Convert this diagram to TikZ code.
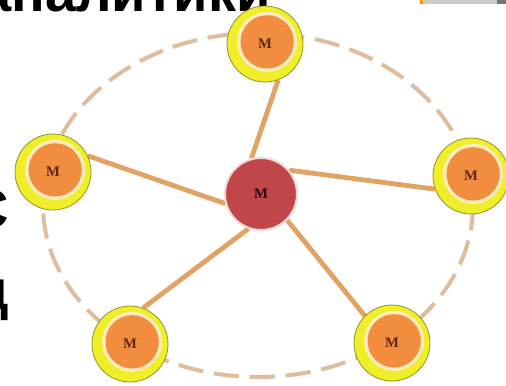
\documentclass[tikz,border=0pt]{standalone}
\usepackage{fontspec}
\newfontfamily\headfont{Liberation Sans}
\newfontfamily\markfont{Liberation Serif}
\usetikzlibrary{backgrounds}
\definecolor{hubred}{RGB}{192,70,74}
\definecolor{hubrim}{RGB}{246,214,214}
\definecolor{ringyellow}{RGB}{240,238,40}
\definecolor{ringolive}{RGB}{140,150,40}
\definecolor{ringcream}{RGB}{255,236,190}
\definecolor{memberorange}{RGB}{242,140,62}
\definecolor{spokecol}{RGB}{226,162,98}
\definecolor{loopcol}{RGB}{222,188,158}
\definecolor{marktext}{RGB}{90,40,20}

\begin{document}
\begin{tikzpicture}[x=0.75pt,y=-0.75pt,
   hub/.style={circle,fill=hubred,draw=hubrim,line width=1.5pt,minimum size=54pt,inner sep=0pt,
     font=\markfont\bfseries\fontsize{11}{11}\selectfont,text=black!85!red},
   member/.style={circle,fill=ringyellow,draw=ringolive,line width=0.6pt,minimum size=57pt,inner sep=0pt,
     font=\markfont\bfseries\fontsize{11}{11}\selectfont,text=marktext,
     path picture={\fill[ringcream] ([shift={(1.6pt,1.6pt)}]path picture bounding box.center) circle (22.5pt);
                   \fill[memberorange] ([shift={(1.6pt,1.6pt)}]path picture bounding box.center) circle (20pt);}},
   link/.style={draw=spokecol,line width=3.6pt},
   headtext/.style={font=\headfont\bfseries\fontsize{42}{42}\selectfont,inner sep=0pt}]
  \useasboundingbox (0,0) rectangle (506,385);
  \clip (0,0) rectangle (506,385);
  % cut-off slide text round the picture
  \node[headtext,anchor=base west] (head) at (-20,12) {аналитики};
  \node[headtext,anchor=base east] (sidec) at (9,228) {С};
  \node[headtext,anchor=base east] (sided) at (9,309) {д};
  \fill[orange!80!yellow] (420,0) rectangle (423,4);
  \fill[black!20] (423,0) rectangle (497,4);
  \fill[black!55] (497,0) rectangle (506,4);
  % hub and members
  \node[hub] (c) at (261,194) {M};
  \node[member] (t) at (265,44) {M};
  \node[member] (l) at (53,172) {M};
  \node[member] (r) at (471,176) {M};
  \node[member] (bl) at (130,344) {M};
  \node[member] (br) at (392,343) {M};
  \begin{scope}[on background layer]
    \draw[loopcol,line width=3pt,dash pattern=on 19pt off 8pt] (258,205) ellipse [x radius=215,y radius=172];
    \draw[link] (c.105) -- (t.-70);
    \draw[link] (c.195) -- (l.25);
    \draw[link] (c.40) -- (r.200);
    \draw[link] (c.-45) -- (br.135);
    \draw[link] (c.-110) -- (bl.70);
  \end{scope}
\end{tikzpicture}
\end{document}
